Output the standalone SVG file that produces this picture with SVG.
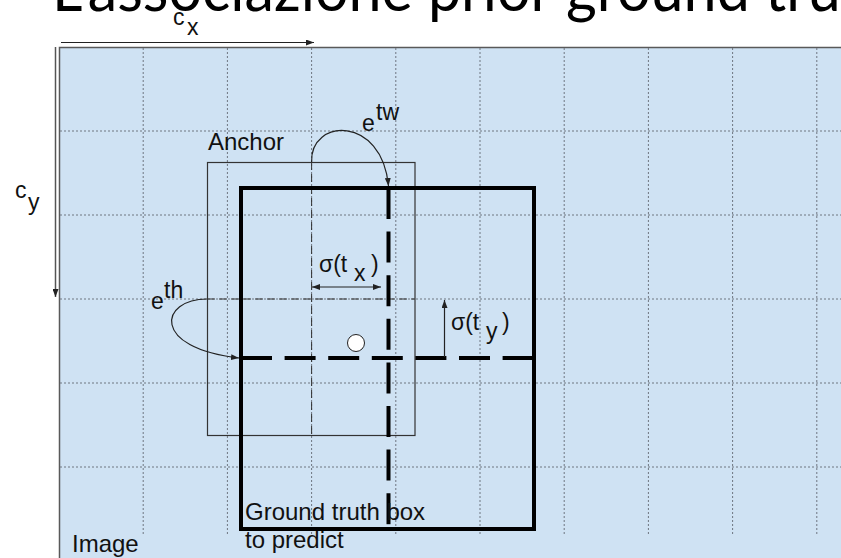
<svg xmlns="http://www.w3.org/2000/svg" width="841" height="558" viewBox="0 0 841 558">
  <defs>
    <style>
      .lbl { font-family: "Liberation Sans", Arial, sans-serif; font-size: 24px; fill: #111; }
      .math { font-family: "Liberation Sans", Arial, sans-serif; font-size: 23px; fill: #111; }
      .grid { stroke: #6e7680; stroke-width: 1; stroke-dasharray: 2 2; fill: none; }
      .thin { stroke: #333; stroke-width: 1; stroke-dasharray: 8 4; fill: none; }
      .thick { stroke: #000; stroke-width: 4; fill: none; }
      .thickdash { stroke: #000; stroke-width: 4; stroke-dasharray: 31 12.6; fill: none; }
      .arr { stroke: #222; stroke-width: 1.2; fill: none; }
    </style>
    <marker id="ah" viewBox="0 0 8 6" refX="8" refY="3" markerWidth="8" markerHeight="6" markerUnits="userSpaceOnUse" orient="auto-start-reverse">
      <path d="M0,0 L8,3 L0,6 z" fill="#222"/>
    </marker>
  </defs>

  <rect x="0" y="0" width="841" height="558" fill="#ffffff"/>

  <g id="title">
    <text x="52" y="11" textLength="843" lengthAdjust="spacingAndGlyphs" style="font-family: Lato, 'Open Sans', sans-serif; font-size: 62px; fill: #000;">L'associazione prior ground truth</text>
  </g>

  <g id="image">
    <rect x="59.5" y="47.5" width="800" height="530" fill="#cfe2f3" stroke="#595959" stroke-width="1.5"/>
    <g id="grid">
      <line class="grid" x1="143.2" y1="48" x2="143.2" y2="535"/>
      <line class="grid" x1="227.4" y1="48" x2="227.4" y2="535"/>
      <line class="grid" x1="311.6" y1="48" x2="311.6" y2="535"/>
      <line class="grid" x1="395.8" y1="48" x2="395.8" y2="535"/>
      <line class="grid" x1="480" y1="48" x2="480" y2="535"/>
      <line class="grid" x1="564.2" y1="48" x2="564.2" y2="535"/>
      <line class="grid" x1="648.4" y1="48" x2="648.4" y2="535"/>
      <line class="grid" x1="732.6" y1="48" x2="732.6" y2="535"/>
      <line class="grid" x1="816.8" y1="48" x2="816.8" y2="535"/>
      <line class="grid" x1="60" y1="131" x2="841" y2="131"/>
      <line class="grid" x1="60" y1="215" x2="841" y2="215"/>
      <line class="grid" x1="60" y1="299" x2="841" y2="299"/>
      <line class="grid" x1="60" y1="383" x2="841" y2="383"/>
      <line class="grid" x1="60" y1="467" x2="841" y2="467"/>
    </g>
    <text class="lbl" x="72" y="552">Image</text>
  </g>

  <g id="anchor">
    <rect x="207.5" y="162.5" width="207.5" height="273" fill="none" stroke="#333" stroke-width="1.2"/>
    <line class="thin" x1="311.6" y1="162" x2="311.6" y2="435"/>
    <line class="thin" x1="207" y1="299" x2="415" y2="299"/>
    <text class="lbl" x="208" y="150">Anchor</text>
  </g>

  <g id="gt-box">
    <rect class="thick" x="241" y="188" width="293" height="341"/>
    <line class="thickdash" x1="388.5" y1="188" x2="388.5" y2="529"/>
    <line class="thickdash" x1="241" y1="358" x2="534" y2="358"/>
    <circle cx="356" cy="343" r="8.5" fill="#fff" stroke="#222" stroke-width="1"/>
    <text class="lbl" x="245" y="520">Ground truth box</text>
    <text class="lbl" x="245" y="548">to predict</text>
  </g>

  <g id="connectors">
    <line class="arr" x1="61" y1="42.5" x2="314" y2="42.5" marker-end="url(#ah)"/>
    <line x1="55.5" y1="47" x2="55.5" y2="297" stroke="#555" stroke-width="1.5" marker-end="url(#ah)"/>
    <path class="arr" d="M311.6,162 C310,118 382,115 388.5,186" marker-end="url(#ah)"/>
    <path class="arr" d="M207,299 C160,299 150,348 239,358" marker-end="url(#ah)"/>
    <line class="arr" x1="312" y1="287" x2="381" y2="287" marker-start="url(#ah)" marker-end="url(#ah)"/>
    <line class="arr" x1="444.5" y1="357" x2="444.5" y2="300" marker-end="url(#ah)"/>
  </g>

  <g id="labels">
    <text class="math" x="173" y="25">c<tspan x="187" y="35">x</tspan></text>
    <text class="math" x="15" y="198">c<tspan x="28" y="210">y</tspan></text>
    <text class="math" x="362" y="131">e<tspan x="376" y="120">tw</tspan></text>
    <text class="math" x="151" y="309">e<tspan x="164" y="298">th</tspan></text>
    <text class="math" x="319" y="272">σ(t<tspan x="354" y="281">x</tspan><tspan x="371" y="272">)</tspan></text>
    <text class="math" x="451" y="330">σ(t<tspan x="486" y="339">y</tspan><tspan x="502" y="330">)</tspan></text>
  </g>
</svg>
